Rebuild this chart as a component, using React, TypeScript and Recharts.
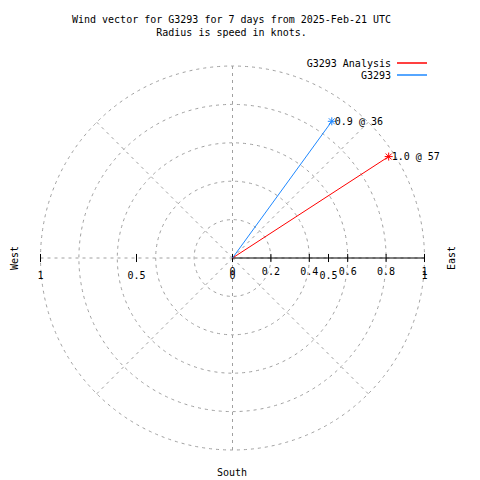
import React from 'react';
import {
  RadarChart,
  Radar,
  PolarGrid,
  PolarAngleAxis,
  PolarRadiusAxis,
  ScatterChart,
  Scatter,
  XAxis,
  YAxis,
  ReferenceLine,
  Legend,
} from 'recharts';

// wind vectors (speed in knots, direction in compass degrees)
const SERIES_NAMES = ['G3293 Analysis', 'G3293'];
const SPEEDS = [0.97, 0.88];
const DIRECTIONS = [57, 36];

const COMPASS = ['N', 'NE', 'E', 'SE', 'S', 'SW', 'W', 'NW'];
const RADIUS_TICKS = [0, 0.2, 0.4, 0.6, 0.8, 1];
const X_TICKS = [-1, -0.5, 0, 0.5, 1];

const COLORS = ['#ff0000', '#1e88ff'];
const GRID = '#a0a0a0';
const FONT = '"DejaVu Sans Mono", "Liberation Mono", monospace';
const SIZE = 480;
const CX = 232.5;
const CY = 258;
const R = 192;
const TICK = 0.021;

const toRad = (deg: number) => (deg * Math.PI) / 180;

const vectors = SERIES_NAMES.map((name, i) => ({
  name,
  color: COLORS[i],
  points: [
    { x: 0, y: 0, speed: 0, dir: 0, tip: false },
    {
      x: SPEEDS[i] * Math.sin(toRad(DIRECTIONS[i])),
      y: SPEEDS[i] * Math.cos(toRad(DIRECTIONS[i])),
      speed: SPEEDS[i],
      dir: DIRECTIONS[i],
      tip: true,
    },
  ],
}));

// the grid only needs the compass spokes, radius stays at the centre
const gridData = COMPASS.map((c) => ({ dir: c, r: 0 }));

const asterisk = (color: string) => (props: any) => {
  const { cx, cy, payload } = props;
  if (!payload || !payload.tip) return <g />;
  const a = 4;
  const d = 3;
  return (
    <g>
      <g stroke={color} strokeWidth={1}>
        <line x1={cx - a} y1={cy} x2={cx + a} y2={cy} />
        <line x1={cx} y1={cy - a} x2={cx} y2={cy + a} />
        <line x1={cx - d} y1={cy - d} x2={cx + d} y2={cy + d} />
        <line x1={cx - d} y1={cy + d} x2={cx + d} y2={cy - d} />
      </g>
      <text
        x={cx + 3}
        y={cy}
        dominantBaseline="central"
        fill="#000"
        fontFamily={FONT}
        fontSize={10}
      >
        {`${payload.speed.toFixed(1)} @ ${payload.dir}`}
      </text>
    </g>
  );
};

const renderLegend = (props: any) => {
  const items = [...(props.payload || [])].sort(
    (a: any, b: any) => SERIES_NAMES.indexOf(a.value) - SERIES_NAMES.indexOf(b.value)
  );
  return (
    <div style={{ fontFamily: FONT, fontSize: 10, color: '#000' }}>
      {items.map((entry: any, i: number) => (
        <div
          key={`legend-${i}`}
          style={{ display: 'flex', alignItems: 'center', justifyContent: 'flex-end', height: 12 }}
        >
          <span>{entry.value}</span>
          <svg width={36} height={4} style={{ display: 'block' }}>
            <line x1={6} y1={2} x2={36} y2={2} stroke={COLORS[SERIES_NAMES.indexOf(entry.value)]} strokeWidth={1.5} />
          </svg>
        </div>
      ))}
    </div>
  );
};

const labelStyle = { fontFamily: FONT, fontSize: 10, fill: '#000' };

export default function App() {
  return (
    <div style={{ position: 'absolute', left: 0, top: 0, width: SIZE, height: SIZE, background: '#fff' }}>
      <div style={{ position: 'absolute', left: 0, top: 0 }}>
        <RadarChart width={SIZE} height={SIZE} data={gridData} cx={CX} cy={CY} outerRadius={R} margin={{ top: 0, right: 0, bottom: 0, left: 0 }}>
          <PolarGrid
            gridType="circle"
            polarRadius={RADIUS_TICKS.map((t) => t * R)}
            stroke={GRID}
            strokeDasharray="3 4"
          />
          <PolarAngleAxis dataKey="dir" tick={false} axisLine={false} />
          <PolarRadiusAxis domain={[0, 1]} tickCount={6} tick={false} axisLine={false} />
          <Radar dataKey="r" stroke="none" fill="none" dot={false} isAnimationActive={false} />
        </RadarChart>
      </div>

      <div style={{ position: 'absolute', left: 0, top: 0 }}>
        <ScatterChart width={SIZE} height={SIZE} margin={{ top: 66, right: 55.5, bottom: 30, left: 40.5 }}>
          <XAxis type="number" dataKey="x" domain={[-1, 1]} hide />
          <YAxis type="number" dataKey="y" domain={[-1, 1]} hide />

          <ReferenceLine segment={[{ x: 0, y: 0 }, { x: 1, y: 0 }]} stroke="#000" ifOverflow="visible" />
          {RADIUS_TICKS.map((t) => (
            <ReferenceLine
              key={`r-${t}`}
              segment={[{ x: t, y: -TICK }, { x: t, y: TICK }]}
              stroke="#000"
              ifOverflow="visible"
              label={{ value: String(t), position: 'bottom', offset: 6, ...labelStyle }}
            />
          ))}
          {X_TICKS.map((t) => (
            <ReferenceLine
              key={`x-${t}`}
              segment={[{ x: t, y: -TICK }, { x: t, y: TICK }]}
              stroke="#000"
              ifOverflow="visible"
              label={{ value: String(Math.abs(t)), position: 'bottom', offset: 10, ...labelStyle }}
            />
          ))}

          {vectors.map((v) => (
            <Scatter
              key={v.name}
              name={v.name}
              data={v.points}
              fill={v.color}
              line={{ stroke: v.color, strokeWidth: 1 }}
              shape={asterisk(v.color)}
              isAnimationActive={false}
            />
          ))}

          <Legend
            layout="vertical"
            align="center"
            verticalAlign="middle"
            content={renderLegend}
            wrapperStyle={{ top: 57, left: 'auto', right: 53, width: 'auto' }}
          />
        </ScatterChart>
      </div>

      <div
        style={{
          position: 'absolute',
          left: 0,
          top: 13,
          width: 463,
          textAlign: 'center',
          fontFamily: FONT,
          fontSize: 10,
          lineHeight: '13px',
          whiteSpace: 'pre',
        }}
      >
        {'Wind vector for G3293 for 7 days from 2025-Feb-21 UTC\nRadius is speed in knots.'}
      </div>
      <div style={{ position: 'absolute', left: 14, top: 258, transform: 'translate(-50%, -50%) rotate(-90deg)', fontFamily: FONT, fontSize: 10 }}>
        West
      </div>
      <div style={{ position: 'absolute', left: 451, top: 258, transform: 'translate(-50%, -50%) rotate(-90deg)', fontFamily: FONT, fontSize: 10 }}>
        East
      </div>
      <div style={{ position: 'absolute', left: 232, top: 472, transform: 'translate(-50%, -50%)', fontFamily: FONT, fontSize: 10 }}>
        South
      </div>
    </div>
  );
}
